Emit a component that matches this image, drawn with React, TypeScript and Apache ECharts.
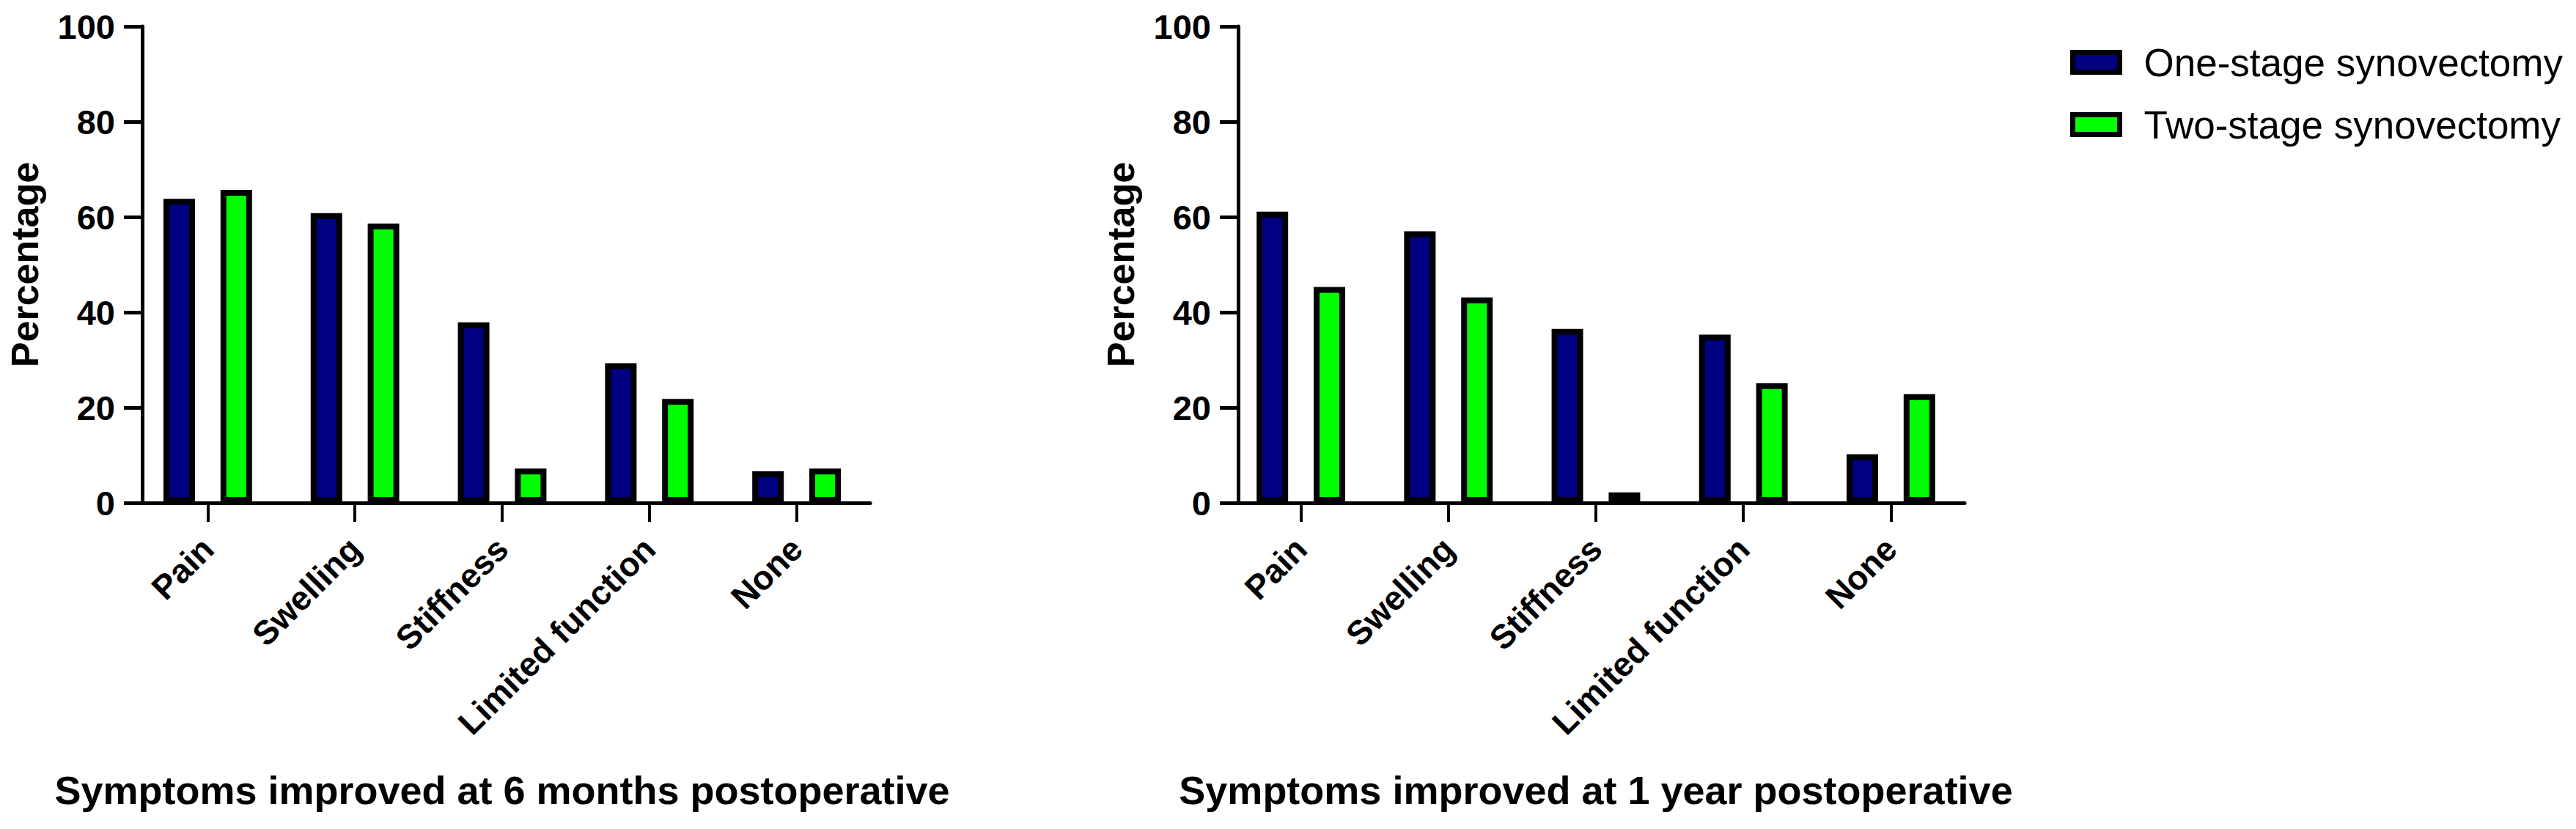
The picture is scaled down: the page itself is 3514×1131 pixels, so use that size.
import React, { useEffect, useRef } from "react";
import * as echarts from "echarts";

const categories = ["Pain", "Swelling", "Stiffness", "Limited function", "None"];
const seriesNames = ["One-stage synovectomy", "Two-stage synovectomy"];
const sixMonthOneStage = [63.8, 60.8, 37.9, 29.3, 6.6];
const sixMonthTwoStage = [65.7, 58.6, 7.2, 21.8, 7.2];
const oneYearOneStage = [61.1, 57.0, 36.5, 35.3, 10.2];
const oneYearTwoStage = [45.3, 43.1, 2.2, 25.1, 22.8];
const xTitles = [
  "Symptoms improved at 6 months postoperative",
  "Symptoms improved at 1 year postoperative",
];
const yName = "Percentage";
const yMin = 0;
const yMax = 100;
const yInterval = 20;

const FONT = "'Liberation Sans', Arial, Helvetica, sans-serif";
const NAVY = "#000080";
const GREEN = "#00ff00";

export default function App() {
  const ref = useRef<HTMLDivElement>(null);
  useEffect(() => {
    if (!ref.current) return;
    const chart = echarts.init(ref.current, undefined, { renderer: "svg" });
    const grids = [
      { left: 183, top: 36, width: 1004, height: 650 },
      { left: 1674, top: 36, width: 1006, height: 650 },
    ];
    const yOffsets = [-11, -15];
    const xAxis = grids.map((_, i) => ({
      type: "category",
      gridIndex: i,
      data: categories,
      boundaryGap: true,
      axisLine: { show: true, lineStyle: { color: "#000", width: 5 } },
      axisTick: { show: true, alignWithLabel: true, length: 26, lineStyle: { color: "#000", width: 4 } },
      axisLabel: {
        interval: 0,
        rotate: 45,
        margin: 55,
        color: "#000",
        fontFamily: FONT,
        fontWeight: "bold",
        fontSize: 46,
      },
      name: xTitles[i],
      nameLocation: "middle",
      nameGap: 365,
      nameTextStyle: { color: "#000", fontFamily: FONT, fontWeight: "bold", fontSize: 54 },
      splitLine: { show: false },
    }));
    const yAxis = grids.map((_, i) => ({
      type: "value",
      gridIndex: i,
      offset: yOffsets[i],
      min: yMin,
      max: yMax,
      interval: yInterval,
      axisLine: { show: true, lineStyle: { color: "#000", width: 5 } },
      axisTick: { show: true, length: 25, lineStyle: { color: "#000", width: 5 } },
      axisLabel: {
        margin: 37,
        color: "#000",
        fontFamily: FONT,
        fontWeight: "bold",
        fontSize: 47,
      },
      name: yName,
      nameLocation: "middle",
      nameRotate: 90,
      nameGap: 134,
      nameTextStyle: { color: "#000", fontFamily: FONT, fontWeight: "bold", fontSize: 52 },
      splitLine: { show: false },
    }));
    const mkSeries = (name: string, data: number[], gi: number, color: string) => ({
      type: "bar",
      name,
      xAxisIndex: gi,
      yAxisIndex: gi,
      data,
      barWidth: 43,
      barGap: "81%",
      itemStyle: { color, borderColor: "#000", borderWidth: 8 },
    });
    chart.setOption({
      animation: false,
      backgroundColor: "#fff",
      grid: grids,
      xAxis,
      yAxis,
      legend: {
        orient: "vertical",
        left: 2819,
        top: 50,
        itemWidth: 64,
        itemHeight: 27,
        itemGap: 25,
        icon: "rect",
        itemStyle: { borderColor: "#000", borderWidth: 7 },
        textStyle: {
          color: "#000",
          fontFamily: FONT,
          fontSize: 53,
          lineHeight: 60,
          padding: [0, 0, 0, 28],
        },
        data: seriesNames,
      },
      series: [
        mkSeries(seriesNames[0], sixMonthOneStage, 0, NAVY),
        mkSeries(seriesNames[1], sixMonthTwoStage, 0, GREEN),
        mkSeries(seriesNames[0], oneYearOneStage, 1, NAVY),
        mkSeries(seriesNames[1], oneYearTwoStage, 1, GREEN),
      ],
    });
    return () => chart.dispose();
  }, []);
  return (
    <div
      ref={ref}
      style={{ position: "fixed", left: 0, top: 0, width: 3514, height: 1131, background: "#fff" }}
    />
  );
}
